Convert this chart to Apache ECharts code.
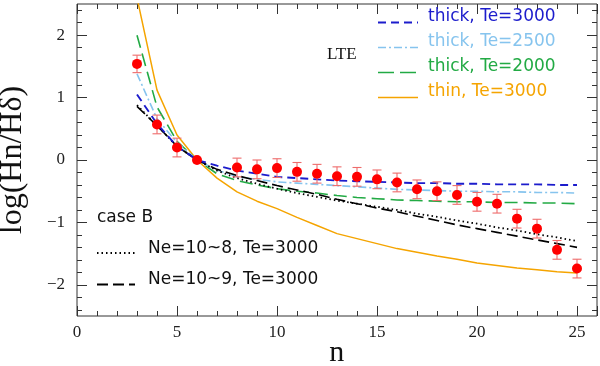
<!DOCTYPE html>
<html>
<head>
<meta charset="utf-8">
<script src="https://cdn.jsdelivr.net/npm/echarts@6/dist/echarts.min.js"></script>
<style>html,body{margin:0;padding:0;background:#fff;}#c{width:600px;height:366px;}</style>
</head>
<body>
<div id="c"></div>
<script>
// ---- data ----
const nObs = [3,4,5,6,8,9,10,11,12,13,14,15,16,17,18,19,20,21,22,23,24,25];
const obsVal = [1.54,0.57,0.20,0.00,-0.12,-0.15,-0.13,-0.19,-0.22,-0.26,-0.27,-0.31,-0.36,-0.47,-0.50,-0.56,-0.67,-0.70,-0.94,-1.10,-1.44,-1.74];
const obsErr = [0.14,0.15,0.15,0.00,0.15,0.15,0.15,0.15,0.15,0.15,0.15,0.15,0.15,0.15,0.15,0.15,0.15,0.15,0.15,0.15,0.15,0.15];

const nModel = [3,4,5,6,7,8,9,10,11,12,13,14,15,16,17,18,19,20,21,22,23,24,25];
const thick3000 = [1.05,0.58,0.22,0,-0.09,-0.17,-0.22,-0.27,-0.29,-0.31,-0.33,-0.34,-0.35,-0.36,-0.37,-0.37,-0.38,-0.38,-0.39,-0.39,-0.39,-0.40,-0.40];
const thick2500 = [1.38,0.66,0.28,0,-0.16,-0.27,-0.31,-0.35,-0.37,-0.39,-0.41,-0.43,-0.45,-0.47,-0.48,-0.49,-0.50,-0.50,-0.51,-0.51,-0.52,-0.52,-0.53];
const thick2000 = [2.00,0.85,0.30,0,-0.22,-0.33,-0.40,-0.46,-0.50,-0.53,-0.57,-0.60,-0.62,-0.64,-0.65,-0.66,-0.67,-0.67,-0.68,-0.68,-0.69,-0.69,-0.70];
const thin3000  = [2.60,1.12,0.40,0,-0.29,-0.51,-0.66,-0.78,-0.92,-1.05,-1.18,-1.26,-1.34,-1.42,-1.48,-1.54,-1.59,-1.65,-1.69,-1.73,-1.76,-1.79,-1.81];
const caseB_ne8 = [0.88,0.55,0.22,0,-0.17,-0.29,-0.38,-0.46,-0.53,-0.59,-0.65,-0.70,-0.75,-0.80,-0.86,-0.91,-0.97,-1.02,-1.08,-1.13,-1.19,-1.24,-1.30];
const caseB_ne9 = [0.86,0.55,0.22,0,-0.15,-0.25,-0.33,-0.41,-0.48,-0.55,-0.63,-0.70,-0.77,-0.83,-0.90,-0.97,-1.04,-1.10,-1.16,-1.22,-1.28,-1.34,-1.40];

const xTickLabels = [0,5,10,15,20,25];
const yTickLabels = [-2,-1,0,1,2];
const lteLabels = ['thick, Te=3000','thick, Te=2500','thick, Te=2000','thin, Te=3000'];
const caseBLabels = ['Ne=10~8, Te=3000','Ne=10~9, Te=3000'];

// ---- styles ----
const C_BLUE = '#1c1ccc', C_LBLUE = '#86c4ee', C_GREEN = '#22aa44', C_ORANGE = '#f5a400', C_BLACK = '#000';
const AX = '#333';
const pair = arr => nModel.map((n,i)=>[n, arr[i]]);

const chart = echarts.init(document.getElementById('c'), null, {renderer:'canvas'});

const G = {left:77, right:3, top:4, h:312};
const unitY = G.h/5;

function tickAxis(extra){
  return Object.assign({
    type:'value', splitLine:{show:false}, axisLine:{show:false, onZero:false},
    axisTick:{show:true, inside:true, length:5, lineStyle:{color:AX, width:1}},
    axisLabel:{show:false}
  }, extra);
}

const lineSeries = (name, arr, color, dash, width) => ({
  type:'line', name, data: pair(arr), xAxisIndex:0, yAxisIndex:0,
  symbol:'none', clip:true, animation:false,
  lineStyle:{color, width, type: dash}
});

const option = {
  animation:false,
  backgroundColor:'#fff',
  grid:[
    {left:G.left, right:G.right, top:G.top, height:G.h, show:true, borderColor:AX, borderWidth:1, backgroundColor:'transparent'},
    {left:G.left, right:G.right, top:G.top+0.5*unitY, height:4*unitY},
    {left:G.left, right:G.right, top:G.top+0.1*unitY, height:4.8*unitY}
  ],
  xAxis:[
    tickAxis({gridIndex:0, position:'bottom', min:0, max:26, interval:5,
      axisTick:{show:true, inside:true, length:10, lineStyle:{color:AX}},
      axisLabel:{show:true, margin:8, color:'#222', fontFamily:'Liberation Serif', fontSize:17,
        formatter: v => xTickLabels.indexOf(v) >= 0 ? String(v) : ''}}),
    tickAxis({gridIndex:0, position:'bottom', min:0, max:26, interval:1}),
    tickAxis({gridIndex:0, position:'top', min:0, max:26, interval:5,
      axisTick:{show:true, inside:true, length:10, lineStyle:{color:AX}}}),
    tickAxis({gridIndex:0, position:'top', min:0, max:26, interval:1}),
    {type:'value', gridIndex:1, show:false, min:0, max:26},
    {type:'value', gridIndex:2, show:false, min:0, max:26}
  ],
  yAxis:[
    {type:'value', gridIndex:0, min:-2.5, max:2.5, show:false, splitLine:{show:false}, axisLine:{show:false,onZero:false}},
    tickAxis({gridIndex:1, position:'left', min:-2, max:2, interval:1,
      axisTick:{show:true, inside:true, length:10, lineStyle:{color:AX}},
      axisLabel:{show:true, margin:12, color:'#222', fontFamily:'Liberation Serif', fontSize:17,
        formatter: v => yTickLabels.indexOf(v) >= 0 ? String(v).replace('-', '\u2212') : ''}}),
    tickAxis({gridIndex:1, position:'right', min:-2, max:2, interval:1,
      axisTick:{show:true, inside:true, length:10, lineStyle:{color:AX}}}),
    tickAxis({gridIndex:2, position:'left', min:-2.4, max:2.4, interval:0.2}),
    tickAxis({gridIndex:2, position:'right', min:-2.4, max:2.4, interval:0.2})
  ],
  series:[
    lineSeries('thin, Te=3000', thin3000, C_ORANGE, 'solid', 1.5),
    lineSeries('thick, Te=2000', thick2000, C_GREEN, [13,6], 1.6),
    lineSeries('thick, Te=2500', thick2500, C_LBLUE, [8,3,2,3], 1.6),
    lineSeries('Ne=10~8, Te=3000', caseB_ne8, C_BLACK, [1.5,3], 1.8),
    lineSeries('Ne=10~9, Te=3000', caseB_ne9, C_BLACK, [11,5], 1.6),
    lineSeries('thick, Te=3000', thick3000, C_BLUE, [8,5], 1.9),
    {
      type:'custom', name:'err', xAxisIndex:0, yAxisIndex:0, animation:false, z:5,
      data: nObs.map((n,i)=>[n, obsVal[i]-obsErr[i], obsVal[i]+obsErr[i]]),
      renderItem: function(params, api){
        const lo = api.coord([api.value(0), api.value(1)]);
        const hi = api.coord([api.value(0), api.value(2)]);
        if (Math.abs(hi[1]-lo[1]) < 1) return null;
        const w = 4.5;
        const st = {stroke:'#ee6b6b', lineWidth:1.1};
        return {type:'group', children:[
          {type:'line', shape:{x1:lo[0], y1:lo[1], x2:hi[0], y2:hi[1]}, style:st},
          {type:'line', shape:{x1:lo[0]-w, y1:lo[1], x2:lo[0]+w, y2:lo[1]}, style:st},
          {type:'line', shape:{x1:hi[0]-w, y1:hi[1], x2:hi[0]+w, y2:hi[1]}, style:st}
        ]};
      }
    },
    {
      type:'scatter', name:'obs', xAxisIndex:0, yAxisIndex:0, z:6,
      data: nObs.map((n,i)=>[n, obsVal[i]]),
      symbol:'circle', symbolSize:10, itemStyle:{color:'#ff0000', opacity:1}, animation:false
    }
  ],
  graphic:[]
};

// legend (LTE)
const lteColors = [C_BLUE, C_LBLUE, C_GREEN, C_ORANGE];
const lteDash = [[8,5],[8,3,2,3],[16,6],null];
const lteW = [1.9,1.6,1.6,1.5];
const legFont = '17px "DejaVu Sans"';
lteLabels.forEach((t,i)=>{
  const yc = 17 + i*25;
  option.graphic.push({type:'line', shape:{x1:378, y1:yc+5.5, x2:418, y2:yc+5.5},
    style:{stroke:lteColors[i], lineWidth:lteW[i], lineDash:lteDash[i]}, z:10});
  option.graphic.push({type:'text', x:428, y:yc, z:10,
    style:{text:t, fill:lteColors[i], font:legFont, align:'left', verticalAlign:'middle'}});
});
option.graphic.push({type:'text', x:327, y:55, z:10,
  style:{text:'LTE', fill:'#111', font:'17px "Liberation Serif"', align:'left', verticalAlign:'middle'}});

// case B block
option.graphic.push({type:'text', x:97, y:218, z:10,
  style:{text:'case B', fill:'#111', font:legFont, align:'left', verticalAlign:'middle'}});
const cbDash = [[1.5,3],[11,5]];
caseBLabels.forEach((t,i)=>{
  const yc = 248.5 + i*31.5;
  option.graphic.push({type:'line', shape:{x1:97, y1:yc+4.5, x2:135, y2:yc+4.5},
    style:{stroke:'#000', lineWidth:1.8, lineDash:cbDash[i]}, z:10});
  option.graphic.push({type:'text', x:148, y:yc, z:10,
    style:{text:t, fill:'#111', font:legFont, align:'left', verticalAlign:'middle'}});
});

// axis titles
option.graphic.push({type:'text', x:12.5, y:160, rotation:Math.PI/2, z:10,
  style:{text:'log(Hn/H\u03b4)', fill:'#111', font:'32px "Liberation Serif"', align:'center', verticalAlign:'middle'}});
option.graphic.push({type:'text', x:336.7, y:353, z:10,
  style:{text:'n', fill:'#111', font:'30px "Liberation Serif"', align:'center', verticalAlign:'middle'}});

chart.setOption(option);
</script>
</body>
</html>
